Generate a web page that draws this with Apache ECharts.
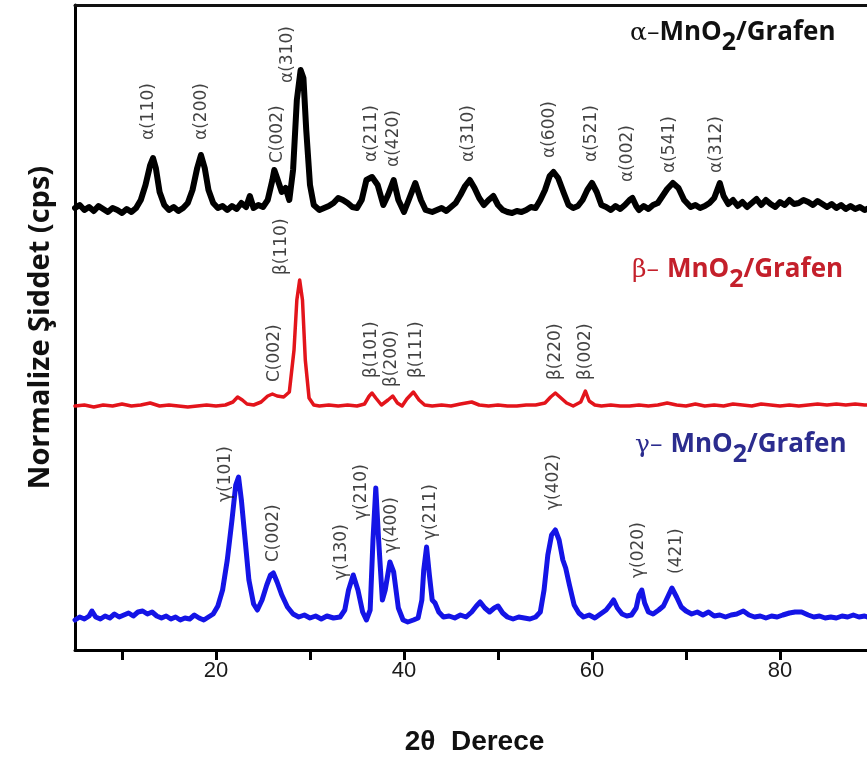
<!DOCTYPE html>
<html><head><meta charset="utf-8">
<script src="https://cdn.jsdelivr.net/npm/echarts@6/dist/echarts.min.js"></script>
<style>html,body{margin:0;padding:0;background:#fff}#c{width:867px;height:757px}</style>
</head><body><div id="c"></div>
<script>
// 2θ positions and normalized (offset) intensities
const alphaX = [5.0,5.5,6.0,6.5,7.0,7.5,8.0,8.5,9.0,9.5,10.0,10.5,11.0,11.5,12.0,12.5,13.0,13.3,13.6,14.0,14.5,15.0,15.5,16.0,16.5,17.0,17.5,18.0,18.4,18.8,19.2,19.7,20.2,20.7,21.2,21.7,22.2,22.7,23.2,23.6,24.0,24.5,25.0,25.5,26.0,26.2,26.5,27.0,27.4,27.8,28.2,28.6,29.0,29.3,29.6,30.0,30.4,31.0,31.5,32.0,32.5,33.0,33.5,34.0,34.5,35.0,35.5,36.0,36.6,37.2,37.8,38.3,38.9,39.4,40.0,40.5,41.2,41.8,42.3,43.0,43.5,44.0,44.5,45.0,45.5,46.0,46.5,47.0,47.5,48.0,48.5,49.0,49.5,50.0,50.5,51.0,51.5,52.0,52.5,53.0,53.5,54.0,54.5,55.0,55.5,55.9,56.4,57.0,57.5,58.0,58.5,59.0,59.5,60.0,60.5,61.0,61.5,62.0,62.5,63.0,63.5,64.0,64.3,64.7,65.0,65.5,66.0,66.5,67.0,67.5,68.0,68.6,69.2,69.8,70.5,71.0,71.5,72.0,72.5,73.0,73.6,74.0,74.5,75.0,75.5,76.0,76.5,77.0,77.5,78.0,78.5,79.0,79.5,80.0,80.5,81.0,81.5,82.0,82.5,83.0,83.5,84.0,84.5,85.0,85.5,86.0,86.5,87.0,87.5,88.0,88.5,89.0,89.5,90.0];
const alphaY = [442,445,440,443,439,444,441,438,442,440,437,441,438,442,450,465,485,492,482,458,445,440,443,439,442,447,460,482,495,482,460,447,442,444,440,444,441,447,443,454,442,445,443,450,470,480,472,458,462,450,480,550,580,572,520,465,445,440,442,444,447,452,450,447,443,442,450,470,473,465,445,455,470,450,438,450,467,450,440,438,440,442,439,443,447,455,464,470,462,452,445,450,454,445,440,438,437,439,438,440,443,442,450,460,474,478,472,457,445,442,444,450,460,467,458,445,443,440,444,441,445,450,452,444,440,444,441,445,447,454,461,467,462,450,443,445,442,444,447,452,467,454,446,450,444,448,443,447,451,445,450,446,443,448,445,450,446,447,450,448,445,449,446,443,446,442,445,441,444,441,443,440,442,440];

const betaX = [5.0,6.0,7.0,8.0,9.0,10.0,11.0,12.0,13.0,14.0,15.0,16.0,17.0,18.0,19.0,20.0,21.0,21.8,22.3,22.8,23.3,24.0,24.8,25.5,26.0,26.5,27.2,27.8,28.3,28.6,28.9,29.2,29.5,29.9,30.4,31.0,32.0,33.0,34.0,35.0,35.8,36.3,36.6,37.0,37.6,38.3,38.8,39.3,39.8,40.3,41.0,41.6,42.2,43.0,44.0,45.0,46.0,47.2,48.0,49.0,50.0,51.0,52.0,53.0,54.0,55.0,55.6,56.1,56.7,57.3,58.0,58.8,59.3,59.7,60.3,61.0,62.0,63.0,64.0,65.0,66.0,67.0,68.0,69.0,70.0,71.0,72.0,73.0,74.0,75.0,76.0,77.0,78.0,79.0,80.0,81.0,82.0,83.0,84.0,85.0,86.0,87.0,88.0,89.0,90.0];
const betaY = [244,245,243,245,244,246,244,245,247,244,245,244,243,244,245,244,245,248,253,250,246,245,248,254,256,254,253,258,300,350,370,350,290,252,245,244,245,244,245,244,246,254,257,252,245,250,254,247,244,251,258,250,245,244,245,244,246,248,245,244,245,244,244,245,245,247,253,257,252,247,244,248,259,249,245,244,245,244,244,245,244,245,247,245,244,246,244,245,244,246,245,244,246,245,244,245,244,245,246,245,246,245,246,245,245];

const gammaX = [5.0,5.5,6.0,6.5,6.8,7.2,7.7,8.2,8.7,9.2,9.7,10.2,10.7,11.2,11.7,12.2,12.7,13.2,13.7,14.2,14.7,15.2,15.7,16.2,16.7,17.2,17.7,18.2,18.7,19.2,19.7,20.2,20.7,21.2,21.7,22.1,22.4,22.7,23.0,23.5,24.0,24.4,24.9,25.4,25.8,26.1,26.5,27.0,27.6,28.2,28.8,29.4,30.0,30.6,31.2,31.8,32.5,33.2,33.7,34.1,34.6,35.1,35.6,36.0,36.4,36.7,37.0,37.3,37.7,38.0,38.5,38.9,39.4,39.9,40.4,41.0,41.5,41.9,42.1,42.4,42.7,43.0,43.3,43.7,44.2,44.8,45.4,46.0,46.6,47.2,47.7,48.1,48.6,49.1,49.6,50.0,50.5,51.0,51.6,52.2,52.8,53.4,54.0,54.5,54.9,55.3,55.7,56.1,56.5,56.9,57.2,57.6,58.1,58.6,59.1,59.7,60.3,60.9,61.5,62.0,62.3,62.7,63.2,63.7,64.2,64.7,65.0,65.3,65.6,66.0,66.5,67.1,67.6,68.1,68.5,69.0,69.5,70.0,70.6,71.2,71.8,72.4,73.0,73.6,74.2,74.8,75.4,76.1,76.7,77.3,77.9,78.5,79.1,79.7,80.3,81.0,81.6,82.3,83.0,83.6,84.2,84.8,85.4,86.0,86.6,87.2,87.8,88.4,89.0,89.6];
const gammaY = [30,33,31,34,39,33,31,34,32,36,33,35,37,34,38,39,36,38,34,32,34,31,33,30,32,31,35,32,30,33,36,44,60,90,130,165,173,150,120,70,46,40,50,65,75,77,68,55,43,36,33,35,32,34,31,34,32,33,40,60,75,60,38,30,40,110,162,110,50,60,88,78,42,30,28,30,32,50,80,103,75,50,47,38,33,34,32,35,33,38,44,48,42,38,42,44,37,33,31,33,32,31,33,38,60,95,115,120,110,90,82,65,45,37,33,35,32,36,40,46,50,42,36,34,35,42,55,60,47,38,36,40,44,54,62,53,43,39,36,38,35,38,34,35,33,35,36,39,35,33,34,32,34,33,35,37,38,38,35,33,34,32,33,32,34,33,35,33,34,32];

// peak annotations: text, 2θ position, and height where the (rotated) label starts
const alphaLabels = ['α(110)','α(200)','C(002)','α(310)','α(211)','α(420)','α(310)','α(600)','α(521)','α(002)','α(541)','α(312)'];
const alphaLabelX = [12.8,18.5,26.5,27.6,36.6,38.9,46.9,55.5,60.0,63.8,68.3,73.3];
const alphaLabelY = [510,510,487,567,488,483,488,492,488,468,477,477];

const betaLabels = ['C(002)','β(110)','β(101)','β(200)','β(111)','β(220)','β(002)'];
const betaLabelX = [26.2,27.0,36.6,38.7,41.3,56.1,59.3];
const betaLabelY = [268,375,272,263,272,270,270];

const gammaLabels = ['γ(101)','C(002)','γ(130)','γ(210)','γ(400)','γ(211)','γ(402)','γ(020)','(421)'];
const gammaLabelX = [21.0,26.1,33.4,35.5,38.7,42.8,55.9,65.0,69.0];
const gammaLabelY = [148,88,70,130,97,110,140,72,76];

const xTicks = [10,20,30,40,50,60,70,80];
const xTickLabels = [20,40,60,80];

const chart = echarts.init(document.getElementById('c'), null, {renderer: 'canvas'});

function lineSeries(xs, ys, color, w) {
  return {
    type: 'line', data: xs.map((x, i) => [x, ys[i]]), showSymbol: false, symbol: 'none',
    lineStyle: {color: color, width: w, join: 'round', cap: 'round'},
    silent: true, z: 2
  };
}
function labelSeries(names, xs, ys) {
  return {
    type: 'scatter', data: xs.map((x, i) => [x, ys[i], names[i]]),
    symbol: 'circle', symbolSize: 2, itemStyle: {color: 'rgba(0,0,0,0)'}, silent: true, z: 3,
    label: {
      show: true, position: 'inside', rotate: 90, align: 'left', verticalAlign: 'middle',
      formatter: p => p.value[2], fontFamily: 'DejaVu Sans', fontSize: 17, color: '#111'
    }
  };
}
function title(x, y, head, color) {
  const base = {fontFamily: 'Open Sans', fontWeight: 'bold', fontSize: 26, fill: color};
  return {
    type: 'text', x: x, y: y, silent: true,
    style: {
      text: '{g|' + head + '}{m|MnO}{s|2}{m|/Grafen}',
      align: 'left', verticalAlign: 'middle',
      rich: {
        g: {fontFamily: 'DejaVu Serif', fontSize: 25, fill: color, verticalAlign: 'middle', lineHeight: 44},
        m: Object.assign({verticalAlign: 'middle', lineHeight: 44}, base),
        s: Object.assign({verticalAlign: 'bottom', lineHeight: 44}, base, {fontSize: 25})
      }
    }
  };
}

chart.setOption({
  animation: false,
  backgroundColor: '#fff',
  grid: {left: 75, right: -7, top: 5, bottom: 107, containLabel: false, outerBoundsMode: 'none'},
  xAxis: [{
    type: 'value', min: 5, max: 90, position: 'bottom',
    name: '2θ  Derece', nameLocation: 'middle', nameGap: 78,
    nameTextStyle: {fontFamily: 'Liberation Sans', fontWeight: 'bold', fontSize: 28, color: '#111'},
    axisLine: {show: true, lineStyle: {color: '#000', width: 3}},
    axisTick: {show: true, customValues: xTicks, length: 10, inside: false, lineStyle: {color: '#000', width: 3}},
    axisLabel: {show: true, customValues: xTickLabels, margin: 10, fontFamily: 'Liberation Sans', fontSize: 22, color: '#1a1a1a'},
    splitLine: {show: false}
  }, {
    type: 'value', min: 5, max: 90, position: 'top',
    axisLine: {show: true, lineStyle: {color: '#111', width: 3}},
    axisTick: {show: false}, axisLabel: {show: false}, splitLine: {show: false}
  }],
  yAxis: {
    type: 'value', min: 0, max: 645,
    name: 'Normalize Şiddet (cps)', nameLocation: 'middle', nameGap: 20, nameRotate: 90,
    nameTextStyle: {fontFamily: 'Open Sans', fontWeight: 'bold', fontSize: 29, color: '#111'},
    axisLine: {show: true, lineStyle: {color: '#000', width: 3}},
    axisTick: {show: false}, axisLabel: {show: false}, splitLine: {show: false}
  },
  series: [
    lineSeries(alphaX, alphaY, '#000000', 6),
    lineSeries(betaX, betaY, '#e3141b', 3.5),
    lineSeries(gammaX, gammaY, '#1414e6', 5),
    labelSeries(alphaLabels, alphaLabelX, alphaLabelY),
    labelSeries(betaLabels, betaLabelX, betaLabelY),
    labelSeries(gammaLabels, gammaLabelX, gammaLabelY)
  ],
  graphic: [
    title(630, 33, 'α–', '#111111'),
    title(632, 270, 'β– ', '#c4202b'),
    title(635, 445, 'γ– ', '#2b2c8e')
  ]
});
</script>
</body></html>
